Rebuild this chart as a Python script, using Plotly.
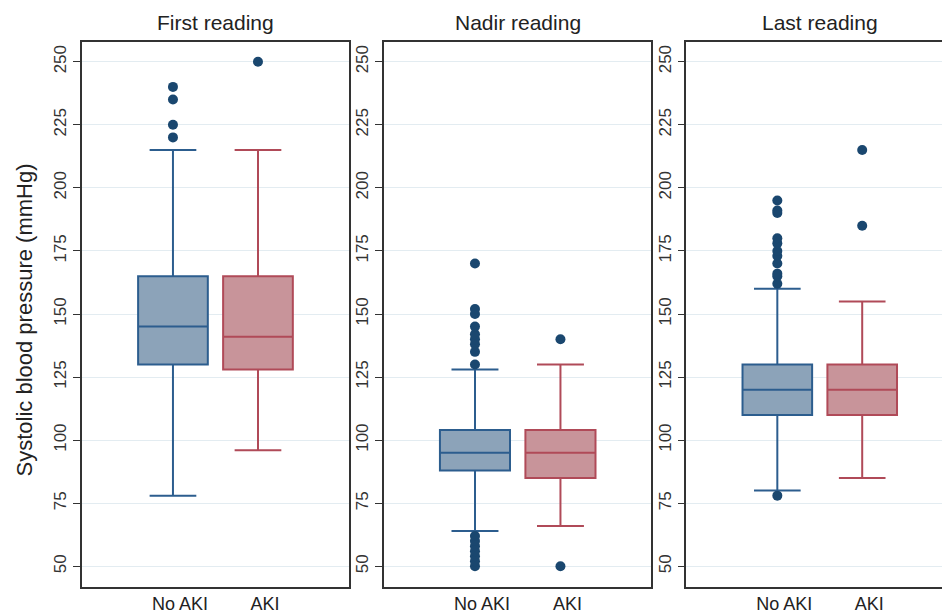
import plotly.graph_objects as go

# ---------------- data ----------------
categories = ["No AKI", "AKI"]
panel_titles = ["First reading", "Nadir reading", "Last reading"]
y_ticks = [50, 75, 100, 125, 150, 175, 200, 225, 250]

first_q1 = [130, 128]
first_median = [145, 141]
first_q3 = [165, 165]
first_lower = [78, 96]
first_upper = [215, 215]
first_out_noaki = [220, 225, 235, 240]
first_out_aki = [250]

nadir_q1 = [88, 85]
nadir_median = [95, 95]
nadir_q3 = [104, 104]
nadir_lower = [64, 66]
nadir_upper = [128, 130]
nadir_out_noaki = [50, 52, 54, 56, 58, 60, 62, 130, 135, 138, 140, 142, 145, 150, 152, 170]
nadir_out_aki = [50, 140]

last_q1 = [110, 110]
last_median = [120, 120]
last_q3 = [130, 130]
last_lower = [80, 85]
last_upper = [160, 155]
last_out_noaki = [78, 162, 165, 166, 170, 173, 175, 178, 180, 190, 191, 195]
last_out_aki = [185, 215]

# ---------------- styles ----------------
fill_colors = ["#8CA3B9", "#C8949A"]
line_colors = ["#2C5D8E", "#B04A58"]
dot_color = "#1A476F"
font_family = "Arial, Liberation Sans, sans-serif"

panels = [
    (first_q1, first_median, first_q3, first_lower, first_upper, [first_out_noaki, first_out_aki]),
    (nadir_q1, nadir_median, nadir_q3, nadir_lower, nadir_upper, [nadir_out_noaki, nadir_out_aki]),
    (last_q1, last_median, last_q3, last_lower, last_upper, [last_out_noaki, last_out_aki]),
]

fig = go.Figure()
for p, (q1, med, q3, lo, hi, outs) in enumerate(panels):
    xa = "x" if p == 0 else f"x{p+1}"
    ya = "y" if p == 0 else f"y{p+1}"
    for i, cat in enumerate(categories):
        fig.add_trace(go.Box(
            x=[cat], q1=[q1[i]], median=[med[i]], q3=[q3[i]],
            lowerfence=[lo[i]], upperfence=[hi[i]],
            boxpoints=False, width=0.82, whiskerwidth=0.67,
            fillcolor=fill_colors[i],
            line=dict(color=line_colors[i], width=2),
            xaxis=xa, yaxis=ya, showlegend=False,
        ))
        fig.add_trace(go.Scatter(
            x=[cat] * len(outs[i]), y=outs[i], mode="markers",
            marker=dict(color=dot_color, size=10),
            xaxis=xa, yaxis=ya, showlegend=False,
        ))

domains = [[0.0, 0.3099], [0.3506, 0.6622], [0.7029, 1.0]]
xranges = [[-1.07, 2.065], [-1.07, 2.065], [-1.07, 1.94]]

layout = dict(
    width=942, height=614,
    margin=dict(l=82, r=0, t=42, b=25),
    paper_bgcolor="white", plot_bgcolor="white",
    font=dict(family=font_family, color="#222"),
    annotations=[],
)
for p in range(3):
    xk = "xaxis" if p == 0 else f"xaxis{p+1}"
    yk = "yaxis" if p == 0 else f"yaxis{p+1}"
    layout[xk] = dict(
        domain=domains[p], range=xranges[p], type="category",
        categoryorder="array", categoryarray=categories,
        showline=True, mirror=True, linecolor="#333", linewidth=1.5,
        ticks="", showgrid=False, zeroline=False,
        tickfont=dict(size=18, color="#222"), ticklabelshift=7,
        ticklabelstandoff=0,
        anchor="y" if p == 0 else f"y{p+1}",
    )
    layout[yk] = dict(
        range=[41.8, 257.8], tickvals=y_ticks,
        showline=True, mirror=(p < 2), linecolor="#333", linewidth=1.5,
        ticks="outside", ticklen=7, tickcolor="#333", tickwidth=1,
        tickangle=-90, tickfont=dict(size=17, color="#333"),
        showgrid=True, gridcolor="#E3ECF1", gridwidth=1, zeroline=False,
        ticklabelstandoff=0,
        anchor="x" if p == 0 else f"x{p+1}",
    )

title_x = [215, 518, 820]
for p in range(3):
    layout["annotations"].append(dict(
        text=panel_titles[p], xref="paper", yref="paper",
        x=(title_x[p] - 82) / 860, y=1.0, yshift=6,
        xanchor="center", yanchor="bottom", showarrow=False,
        font=dict(size=21, color="#222"),
    ))
layout["annotations"].append(dict(
    text="Systolic blood pressure (mmHg)", xref="paper", yref="paper",
    x=(24 - 82) / 860, y=0.489, textangle=-90,
    xanchor="center", yanchor="middle", showarrow=False,
    font=dict(size=22, color="#222"),
))

fig.update_layout(**layout)
fig.write_html(
    "out.html",
    config={"displayModeBar": False},
    post_script="document.body.style.margin='0';document.body.style.overflow='hidden';",
)
